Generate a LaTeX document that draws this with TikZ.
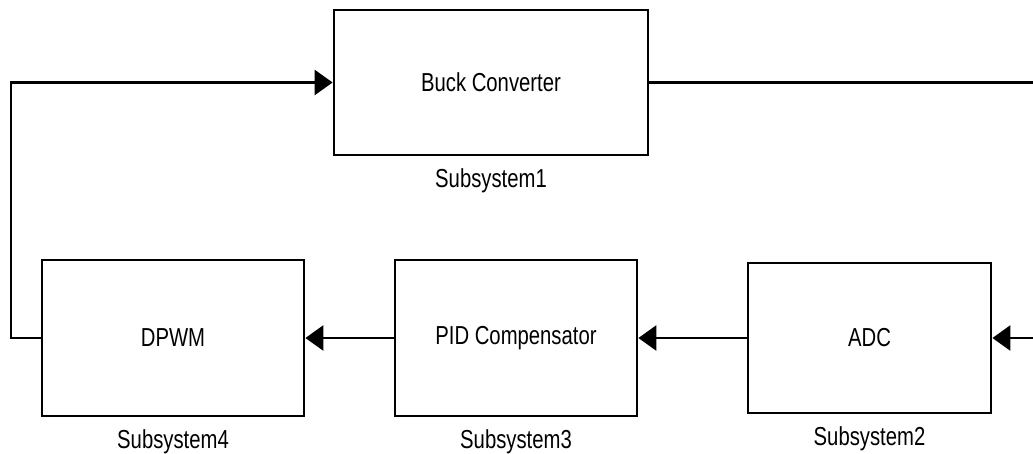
\documentclass[tikz,border=0pt]{standalone}
\usepackage{fontspec}
\newfontfamily\blkfont[FakeStretch=0.78]{Liberation Sans}
\usetikzlibrary{arrows.meta}

\begin{document}
\begin{tikzpicture}[
    x=1pt, y=-1pt,
    blk/.style={
        rectangle,
        draw=black,
        line width=2.8pt,
        inner sep=0pt,
        font=\blkfont\fontsize{26}{31}\selectfont
    },
    sublbl/.style={
        inner sep=0pt,
        label distance=12pt,
        font=\blkfont\fontsize{26}{31}\selectfont
    },
    sig/.style={
        line width=2.8pt,
        -{Triangle[length=18pt,width=25pt]}
    }
]
\useasboundingbox (0,0) rectangle (1033,453);
\clip (0,0) rectangle (1033,453);

% --- 各子系統方塊 ---
\node[blk, minimum width=314pt, minimum height=145pt,
      label={[sublbl]below:Subsystem1}] (buck) at (491,82.5) {Buck Converter};
\node[blk, minimum width=262pt, minimum height=156pt,
      label={[sublbl]below:Subsystem4}] (dpwm) at (173,338) {DPWM};
\node[blk, minimum width=242pt, minimum height=156pt,
      label={[sublbl]below:Subsystem3}] (pid) at (516,338) {PID Compensator};
\node[blk, minimum width=243pt, minimum height=150pt,
      label={[sublbl]below:Subsystem2}] (adc) at (869.5,338) {ADC};

% 迴授路徑的轉折點
\coordinate (fbl) at (11,338);
\coordinate (fbr) at (1050,82.5);

% --- 訊號連線 ---
\draw[sig] (buck.east) -- (fbr) |- (adc.east);
\draw[sig] (adc.west) -- (pid.east);
\draw[sig] (pid.west) -- (dpwm.east);
\draw[sig] (dpwm.west) -- (fbl) |- (buck.west);
\end{tikzpicture}
\end{document}
